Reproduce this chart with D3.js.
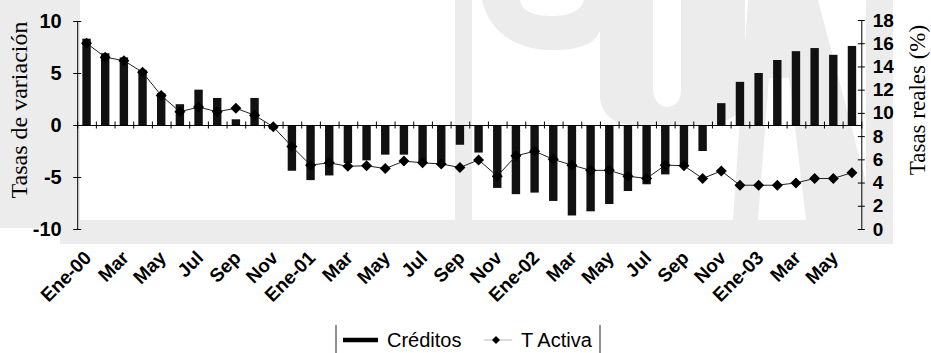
<!DOCTYPE html>
<html>
<head>
<meta charset="utf-8">
<script src="https://cdn.jsdelivr.net/npm/d3@7"></script>
<style>
  html, body { margin: 0; padding: 0; background: #fff; }
  svg { display: block; }
</style>
</head>
<body>
<svg id="chart" width="931" height="353"></svg>
<script>
// Monthly categories, Jan 2000 – Jun 2003
const categories = [
  "Ene-00","Feb-00","Mar-00","Abr-00","May-00","Jun-00","Jul-00","Ago-00","Sep-00","Oct-00","Nov-00","Dic-00",
  "Ene-01","Feb-01","Mar-01","Abr-01","May-01","Jun-01","Jul-01","Ago-01","Sep-01","Oct-01","Nov-01","Dic-01",
  "Ene-02","Feb-02","Mar-02","Abr-02","May-02","Jun-02","Jul-02","Ago-02","Sep-02","Oct-02","Nov-02","Dic-02",
  "Ene-03","Feb-03","Mar-03","Abr-03","May-03","Jun-03"
];

// Créditos: tasas de variación (left axis)
const creditos = [
  8.3, 6.9, 6.5, 5.3, 3.05, 2.0, 3.4, 2.6, 0.55, 2.6, -0.4, -4.4,
  -5.3, -4.85, -3.65, -3.4, -2.85, -2.85, -3.6, -3.6, -1.9, -2.65, -6.05, -6.65,
  -6.5, -7.3, -8.7, -8.3, -7.6, -6.35, -5.7, -4.75, -3.95, -2.5, 2.1, 4.15,
  5.0, 6.25, 7.1, 7.4, 6.75, 7.6
];

// T Activa: tasas reales en % (right axis)
const tActiva = [
  16.0, 14.8, 14.5, 13.5, 11.5, 10.1, 10.5, 10.1, 10.4, 9.8, 8.8, 7.1,
  5.5, 5.7, 5.4, 5.45, 5.2, 5.85, 5.7, 5.6, 5.3, 5.95, 4.55, 6.3,
  6.7, 6.0, 5.5, 5.05, 5.05, 4.55, 4.35, 5.5, 5.45, 4.35, 5.0, 3.77,
  3.77, 3.77, 3.97, 4.35, 4.35, 4.85
];

// Category labels shown every other month
const tickLabels = [
  "Ene-00","Mar","May","Jul","Sep","Nov",
  "Ene-01","Mar","May","Jul","Sep","Nov",
  "Ene-02","Mar","May","Jul","Sep","Nov",
  "Ene-03","Mar","May"
];

const leftTicks = [-10, -5, 0, 5, 10];
const rightTicks = [0, 2, 4, 6, 8, 10, 12, 14, 16, 18];

const SANS = "'Liberation Sans', Arial, sans-serif";
const SERIF = "'Liberation Serif', 'Times New Roman', serif";

const svg = d3.select("#chart");

// ---- scales ----
const plotLeft = 77.2, plotRight = 861.3;
const x = d3.scaleBand()
  .domain(categories)
  .range([plotLeft, plotRight])
  .paddingInner(0.55)
  .paddingOuter(0.275);
const bw = x.bandwidth();
const cx = c => x(c) + bw / 2;

const xEdges = d3.scaleLinear().domain([0, categories.length]).range([plotLeft, plotRight]);
const yL = d3.scaleLinear().domain([-10, 10]).range([229, 21]);
const yR = d3.scaleLinear().domain([0, 18]).range([229, 20]);

// ---- light background logo ----
const wm = svg.append("g").attr("fill", "#ececec");
wm.append("rect").attr("x", 0).attr("y", 0).attr("width", 80).attr("height", 228);
wm.append("rect").attr("x", 60).attr("y", 220).attr("width", 833).attr("height", 24);
wm.append("rect").attr("x", 455).attr("y", 0).attr("width", 17).attr("height", 220);
wm.append("path").attr("fill-rule", "evenodd").attr("d",
  "M482,0 C490,35 520,52 560,50 C585,49 598,40 600,30 L600,95 " +
  "C600,115 615,125 635,125 L705,125 C730,125 745,110 745,95 L745,0 Z " +
  "M653,0 L653,90 C653,100 660,107 667,107 C675,107 681,100 681,90 L681,0 Z " +
  "M520,0 C522,12 535,16 552,16 C570,16 582,10 584,0 Z");
wm.append("path").attr("fill-rule", "evenodd").attr("d",
  "M733,220 L748,0 L818,0 L876,220 Z M769,78 L789,78 L806,220 L758,220 Z");
wm.append("rect").attr("x", 866).attr("y", 0).attr("width", 27).attr("height", 244);

// ---- bars ----
svg.append("g").selectAll("rect")
  .data(categories)
  .join("rect")
  .attr("x", c => x(c))
  .attr("width", bw)
  .attr("y", (c, i) => yL(Math.max(0, creditos[i])))
  .attr("height", (c, i) => Math.abs(yL(creditos[i]) - yL(0)))
  .attr("fill", "#111");

// ---- zero axis with cross ticks at category edges ----
const zeroAxis = svg.append("g")
  .attr("transform", `translate(0,${yL(0)})`)
  .call(d3.axisBottom(xEdges).tickValues(d3.range(0, categories.length + 1)).tickSizeOuter(0).tickFormat(""));
zeroAxis.select(".domain").attr("stroke", "#000").attr("stroke-width", 1.2);
zeroAxis.selectAll(".tick line").attr("y1", -3.5).attr("y2", 3.5).attr("stroke", "#000");

// ---- T Activa line and markers ----
const line = d3.line().x((c) => cx(c)).y((c, i) => yR(tActiva[i]));
svg.append("path")
  .datum(categories)
  .attr("d", line)
  .attr("fill", "none")
  .attr("stroke", "#222")
  .attr("stroke-width", 1);

svg.append("g").selectAll("path")
  .data(categories)
  .join("path")
  .attr("transform", (c, i) => `translate(${cx(c)},${yR(tActiva[i])})`)
  .attr("d", "M0,-5.5 L5.5,0 L0,5.5 L-5.5,0 Z")
  .attr("fill", "#000");

// ---- left axis ----
const axL = svg.append("g")
  .attr("transform", `translate(${plotLeft},0)`)
  .call(d3.axisLeft(yL).tickValues(leftTicks).tickSize(4).tickSizeOuter(0).tickPadding(11.5)
    .tickFormat(d => String(d)));
axL.attr("font-family", SANS).attr("font-size", 20).attr("font-weight", "bold");
axL.select(".domain").attr("stroke", "#000");
axL.selectAll(".tick line").attr("x1", 4).attr("stroke", "#000");
axL.selectAll(".tick text").attr("fill", "#000");

// ---- right axis ----
const axR = svg.append("g")
  .attr("transform", `translate(${plotRight},0)`)
  .call(d3.axisRight(yR).tickValues(rightTicks).tickSize(3.5).tickSizeOuter(0).tickPadding(8)
    .tickFormat(d => String(d)));
axR.attr("font-family", SANS).attr("font-size", 19).attr("font-weight", "bold");
axR.select(".domain").attr("stroke", "#000");
axR.selectAll(".tick line").attr("x1", -3.5).attr("stroke", "#000");
axR.selectAll(".tick text").attr("fill", "#000");

// ---- rotated month labels ----
svg.append("g").selectAll("text")
  .data(tickLabels)
  .join("text")
  .attr("transform", (d, i) => `translate(${cx(categories[i * 2]) + 6},259) rotate(-45)`)
  .attr("text-anchor", "end")
  .attr("font-family", SANS)
  .attr("font-size", 19)
  .attr("font-weight", "bold")
  .attr("fill", "#000")
  .text(d => d);

// ---- axis titles ----
svg.append("text")
  .attr("transform", "translate(27,110) rotate(-90)")
  .attr("text-anchor", "middle")
  .attr("font-family", SERIF)
  .attr("font-size", 24)
  .attr("fill", "#000")
  .text("Tasas de variación");

svg.append("text")
  .attr("transform", "translate(925,100) rotate(-90)")
  .attr("text-anchor", "middle")
  .attr("font-family", SERIF)
  .attr("font-size", 23)
  .attr("fill", "#000")
  .text("Tasas reales (%)");

// ---- legend ----
const lg = svg.append("g");
lg.append("line").attr("x1", 336).attr("x2", 336).attr("y1", 325).attr("y2", 353).attr("stroke", "#444").attr("stroke-width", 1.2);
lg.append("line").attr("x1", 600).attr("x2", 600).attr("y1", 325).attr("y2", 353).attr("stroke", "#444").attr("stroke-width", 1.2);
lg.append("line").attr("x1", 343).attr("x2", 378).attr("y1", 340).attr("y2", 340).attr("stroke", "#000").attr("stroke-width", 4.5);
lg.append("text").attr("x", 387).attr("y", 347).attr("font-family", SANS).attr("font-size", 20).attr("fill", "#000").text("Créditos");
lg.append("line").attr("x1", 484).attr("x2", 512).attr("y1", 340).attr("y2", 340).attr("stroke", "#bbb").attr("stroke-width", 1);
lg.append("path").attr("transform", "translate(496,340)").attr("d", "M0,-4 L4,0 L0,4 L-4,0 Z").attr("fill", "#000");
lg.append("text").attr("x", 521).attr("y", 347).attr("font-family", SANS).attr("font-size", 20).attr("fill", "#000").text("T Activa");
</script>
</body>
</html>
